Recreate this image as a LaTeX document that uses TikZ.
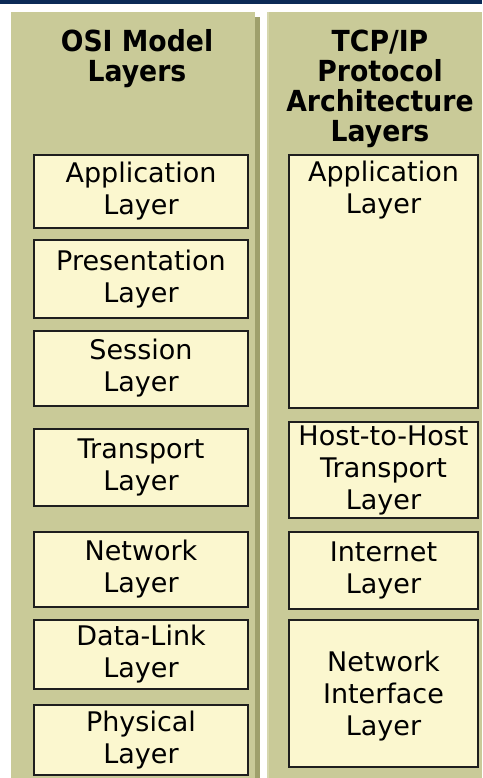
\documentclass[tikz,border=0pt]{standalone}
\usepackage{fontspec}
\setmainfont{DejaVu Sans}
\newfontfamily\headfont[FakeStretch=0.92]{DejaVu Sans}
\definecolor{navy}{HTML}{0C2A56}
\definecolor{panel}{HTML}{C9CA98}
\definecolor{panelshadow}{HTML}{9FA06C}
\definecolor{panellight}{HTML}{D6D7AE}
\definecolor{boxfill}{HTML}{FBF7CF}
\definecolor{boxline}{HTML}{1E1E1E}
\begin{document}
\begin{tikzpicture}[x=1pt,y=-1pt,
  layerbox/.style={draw=boxline,line width=2.2pt,fill=boxfill,inner sep=0pt,align=center,font=\fontsize{27}{32}\selectfont},
  osibox/.style={layerbox,minimum width=214pt},
  tcpbox/.style={layerbox,minimum width=189pt},
  headtext/.style={inner sep=0pt,align=center,font=\headfont\fontsize{29}{30}\selectfont\bfseries},
  boxtext/.style={inner sep=0pt,align=center,font=\fontsize{27}{32}\selectfont}]
\useasboundingbox (0,0) rectangle (482,778);
\fill[white] (0,0) rectangle (482,778);
\fill[navy] (0,0) rectangle (482,4);
\fill[panelshadow] (255,17) rectangle (260,778);
\fill[panel] (11,12) rectangle (255,778);
\fill[panel] (267,12) rectangle (482,778);
\fill[panellight] (267,12) rectangle (269,778);
% titles
\node[headtext] (osititle) at (137,59) {OSI Model\\Layers};
\node[headtext] (tcptitle) at (380,89) {TCP/IP\\Protocol\\Architecture\\Layers};
% OSI layers
\node[osibox,minimum height=73pt] (oapp)   at (141,191.5) {Application\\Layer};
\node[osibox,minimum height=78pt] (opres)  at (141,279)   {Presentation\\Layer};
\node[osibox,minimum height=75pt] (oses)   at (141,368.5) {Session\\Layer};
\node[osibox,minimum height=77pt] (otrans) at (141,467.5) {Transport\\Layer};
\node[osibox,minimum height=75pt] (onet)   at (141,569.5) {Network\\Layer};
\node[osibox,minimum height=69pt] (odl)    at (141,654.5) {Data-Link\\Layer};
\node[osibox,minimum height=70pt] (ophys)  at (141,740)   {Physical\\Layer};
% TCP/IP layers
\node[tcpbox,minimum height=253pt] (tapp) at (383.5,281.5) {};
\node[boxtext,anchor=north] (tapptext) at ([yshift=-6.5pt]tapp.north) {Application\\Layer};
\node[tcpbox,minimum height=96pt]  (thost) at (383.5,470)   {Host-to-Host\\Transport\\Layer};
\node[tcpbox,minimum height=77pt]  (tinet) at (383.5,570.5) {Internet\\Layer};
\node[tcpbox,minimum height=147pt] (tnif)  at (383.5,693.5) {};
\node[boxtext] (tniftext) at ([yshift=-2.5pt]tnif.center) {Network\\Interface\\Layer};
\end{tikzpicture}
\end{document}
